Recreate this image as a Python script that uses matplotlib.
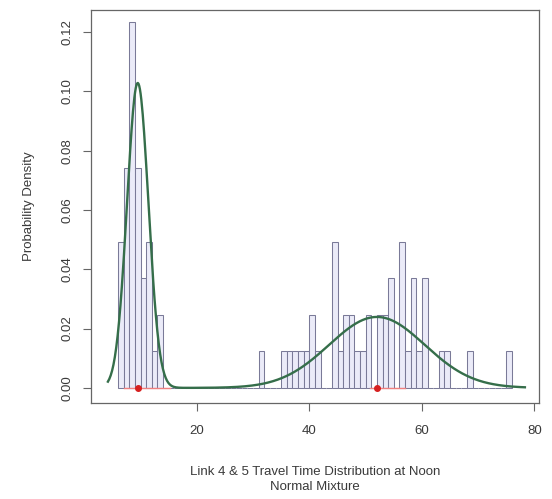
#histogram of link 4 & 5 travel times at noon with a fitted two-component normal mixture
import numpy as np
import matplotlib.pyplot as plt

plt.rcParams['font.family'] = ['Liberation Sans', 'DejaVu Sans']

#histogram bins (left edge, width 1) and counts
bin_left = [6, 7, 8, 9, 10, 11, 12, 13,
            31, 35, 36, 37, 38, 39, 40, 41, 44, 45, 46, 47, 48, 49, 50,
            52, 53, 54, 56, 57, 58, 59, 60, 63, 64, 68, 75]
counts = [4, 6, 10, 6, 3, 4, 1, 2,
          1, 1, 1, 1, 1, 1, 2, 1, 4, 1, 2, 2, 1, 1, 2,
          2, 2, 3, 4, 1, 3, 1, 3, 1, 1, 1, 1]

#fitted mixture components
comp_mean = [9.5, 52.0]
comp_sd = [1.9, 8.5]
comp_weight = [0.49, 0.51]
curve_range = [4.2, 78.3]

#red marks on the baseline (component means and their spans)
red_x = [9.5, 52.0]
red_spans = [(7.0, 15.3), (50.8, 57.0)]

fig = plt.figure(figsize=(5.52, 4.99), dpi=100)
ax = fig.add_axes([0.1649, 0.1924, 0.8115, 0.7876])

edges = np.arange(6, 77)
ax.hist(bin_left, bins=edges, weights=counts, density=True,
        facecolor="#ebebf8", edgecolor="#7a7a98", linewidth=0.75)

for a, b in red_spans:
    ax.plot([a, b], [0, 0], color="#f08080", lw=1.0, zorder=3)

xs = np.linspace(curve_range[0], curve_range[1], 600)
dens = np.zeros_like(xs)
for m, s, w in zip(comp_mean, comp_sd, comp_weight):
    dens += w * np.exp(-0.5 * ((xs - m) / s) ** 2) / (s * np.sqrt(2 * np.pi))
ax.plot(xs, dens, color="#356e4a", lw=1.7, zorder=4)

ax.plot(red_x, [0, 0], "o", color="#d62020", ms=4, zorder=5)

ax.set_xlim(1.2, 80.8)
ax.set_ylim(-0.0051, 0.1275)
ax.set_xticks([20, 40, 60, 80])
ax.set_yticks([0.00, 0.02, 0.04, 0.06, 0.08, 0.10, 0.12])
ax.set_yticklabels(["0.00", "0.02", "0.04", "0.06", "0.08", "0.10", "0.12"],
                   rotation=90, va="center")

ax.tick_params(axis="both", direction="out", length=5.5, width=0.8,
               color="#666666", labelcolor="#3a3a3a", labelsize=9.5)
ax.tick_params(axis="x", pad=10)
ax.tick_params(axis="y", pad=7)
for sp in ax.spines.values():
    sp.set_color("#666666")
    sp.set_linewidth(0.9)

ax.set_ylabel("Probability Density", fontsize=9.5, color="#3a3a3a")
ax.yaxis.set_label_coords(-0.125, 0.5)
ax.set_xlabel("Link 4 & 5 Travel Time Distribution at Noon\nNormal Mixture",
              fontsize=9.5, color="#3a3a3a", linespacing=1.35)
ax.xaxis.set_label_coords(0.5, -0.16)

fig.savefig("out.png", dpi=100)
